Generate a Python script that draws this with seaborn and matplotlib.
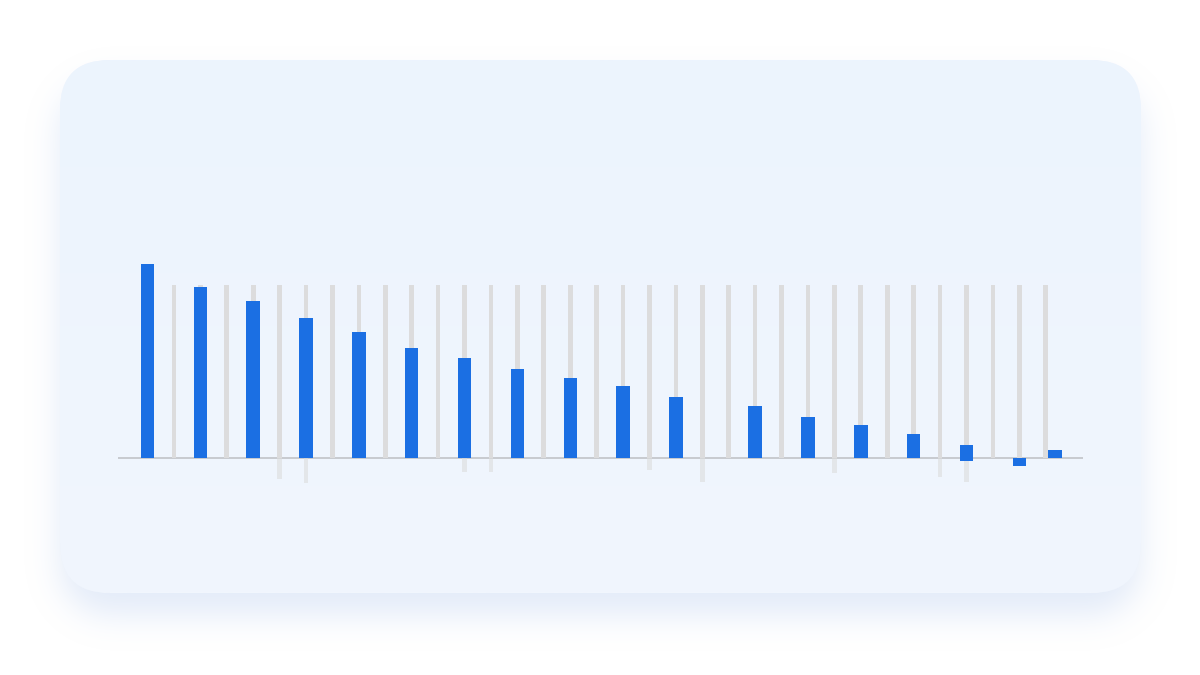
import numpy as np
import pandas as pd
import matplotlib.pyplot as plt
from matplotlib.patches import FancyBboxPatch
import seaborn as sns

sns.set_theme(style='white')
plt.rcParams['font.family'] = ['DejaVu Sans']

# Blue bars: slot position, part above the baseline, part below it
bar_pos = [0, 2, 4, 6, 8, 10, 12, 14, 16, 18, 20, 23, 25, 27, 29, 31, 33, 34.35]
bar_top = [112, 98.7, 90.8, 81.1, 73.1, 63.6, 57.7, 51.5, 46.2, 41.5, 35.5,
           30, 23.7, 19.2, 14.2, 7.5, 0, 5.0]
bar_low = [0, 0, 0, 0, 0, 0, 0, 0, 0, 0, 0, 0, 0, 0, 0, -1.7, -4.3, 0]

# Grey guide lines: one per slot, all reach the same top, some dip below zero
grey_pos = list(range(35))
grey_top = [100] * 35
grey_low = [0, 0, 0, 0, 0, -11.9, -14.3, 0, 0, 0, 0, 0, -7.9, -7.9, 0, 0, 0, 0,
            0, -6.8, 0, -13.7, 0, 0, 0, 0, -8.5, 0, 0, 0, -10.8, -13.7, 0, 0, 0]

blue = '#1B6FE3'
grey = '#DCDCDD'

bars = pd.DataFrame({'pos': bar_pos, 'top': bar_top, 'low': bar_low})
guides = pd.DataFrame({'pos': grey_pos, 'top': grey_top, 'low': grey_low})

W, H = 1200, 675
x0, y0, x1, y1, r = 60, 60, 1141, 593, 50


def rounded_mask(ox, oy):
    xx, yy = np.meshgrid(np.arange(W) + 0.5, np.arange(H) + 0.5)
    dx = np.maximum.reduce([x0 + ox + r - xx, np.zeros_like(xx), xx - (x1 + ox - r)])
    dy = np.maximum.reduce([y0 + oy + r - yy, np.zeros_like(yy), yy - (y1 + oy - r)])
    return (dx ** 2 + dy ** 2 <= r ** 2).astype(float)


def blur(a, sigma):
    k = np.arange(-3 * sigma, 3 * sigma + 1)
    k = np.exp(-k ** 2 / (2 * sigma ** 2))
    k /= k.sum()
    a = np.apply_along_axis(lambda v: np.convolve(v, k, mode='same'), 1, a)
    return np.apply_along_axis(lambda v: np.convolve(v, k, mode='same'), 0, a)


fig = plt.figure(figsize=(12, 6.75), dpi=100)
fig.patch.set_facecolor('white')

# card background in pixel units
bg = fig.add_axes([0, 0, 1, 1])
bg.set_xlim(0, W)
bg.set_ylim(H, 0)
bg.axis('off')

shadow = blur(rounded_mask(0, 22), 16)
sh_img = np.zeros((H, W, 4))
sh_img[..., :3] = np.array([0xB6, 0xCB, 0xEE]) / 255
sh_img[..., 3] = shadow * 0.38
bg.imshow(sh_img, extent=[0, W, H, 0], aspect='auto', zorder=0)

card = FancyBboxPatch((x0, y0), x1 - x0, y1 - y0,
                      boxstyle='round,pad=0,rounding_size=%d' % r,
                      facecolor='#EEF4FD', edgecolor='none', zorder=1)
bg.add_patch(card)
grad = np.linspace(0, 1, 200)[:, None, None]
c_top = np.array([0xEC, 0xF4, 0xFE]) / 255
c_bot = np.array([0xF1, 0xF6, 0xFD]) / 255
img = c_top * (1 - grad) + c_bot * grad
im = bg.imshow(img, extent=[x0, x1, y1, y0], aspect='auto', zorder=2)
im.set_clip_path(card)
bg.set_xlim(0, W)
bg.set_ylim(H, 0)

# chart area
ax = fig.add_axes([118 / 1200, 1 - 500 / 675, 965 / 1200, 250 / 675])
ax.patch.set_alpha(0)

gw = 0.178
sns.barplot(data=guides, x='pos', y='top', native_scale=True, orient='x',
            width=gw, color=grey, saturation=1, linewidth=0, errorbar=None, ax=ax)
sns.barplot(data=guides, x='pos', y='low', native_scale=True, orient='x',
            width=gw, color=grey, saturation=1, linewidth=0, errorbar=None,
            alpha=0.6, ax=ax)

bw = 0.507 / np.diff(sorted(bar_pos)).min()
sns.barplot(data=bars, x='pos', y='top', native_scale=True, orient='x',
            width=bw, color=blue, saturation=1, linewidth=0, errorbar=None, ax=ax)
sns.barplot(data=bars, x='pos', y='low', native_scale=True, orient='x',
            width=bw, color=blue, saturation=1, linewidth=0, errorbar=None, ax=ax)

ax.axhline(0, color='#BDBFC3', linewidth=1.1, zorder=0.5)

ax.set_xlim(-1.117, 35.41)
ax.set_ylim(-24.06, 120.2)
ax.set_axis_off()

fig.savefig('out.png', dpi=100)
